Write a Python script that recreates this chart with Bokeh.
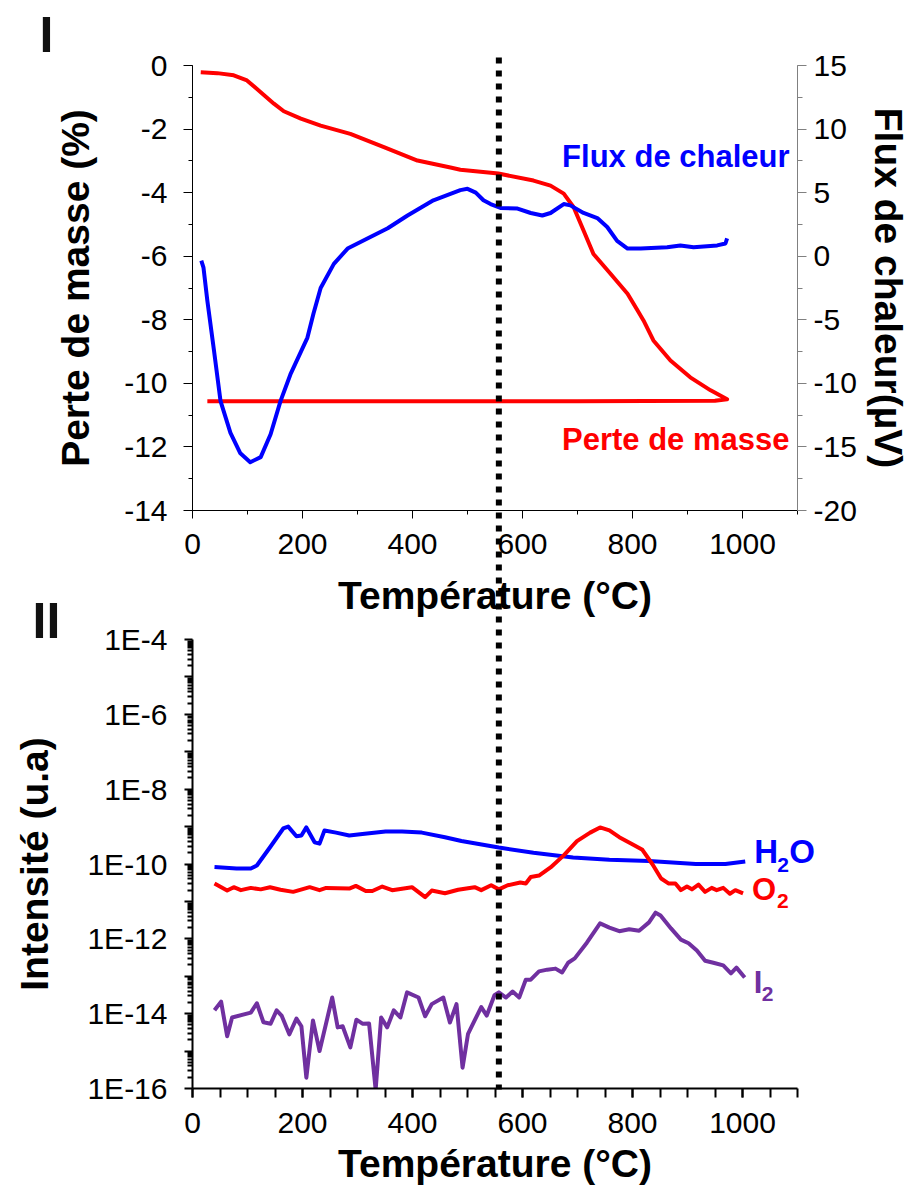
from bokeh.plotting import figure
from bokeh.models import (Range1d, LinearAxis, SingleIntervalTicker, FixedTicker,
                          CustomJSTickFormatter, Label)
from bokeh.layouts import column
from bokeh.embed import file_html
from bokeh.resources import INLINE

FONT = "Liberation Sans"

# ---------------- Panel I : TG / DSC ----------------
mass_T = [15, 45, 75, 99, 124, 148, 166, 197, 233, 287, 348, 409, 469, 487, 556, 620, 651, 675, 693, 711,
          729, 760, 791, 809, 820, 838, 869, 905, 942, 972, 950, 700, 400, 27]
mass = [-0.21, -0.24, -0.31, -0.47, -0.84, -1.2, -1.44, -1.67, -1.89, -2.15, -2.57, -2.99, -3.21, -3.28,
        -3.40, -3.62, -3.78, -4.03, -4.46, -5.19, -5.93, -6.55, -7.18, -7.7, -8.02, -8.65, -9.28, -9.81,
        -10.22, -10.5, -10.55, -10.56, -10.56, -10.56]

flux_T = [16, 20, 27, 39, 51, 69, 87, 105, 124, 142, 160, 178, 209, 220, 233, 257, 282, 318, 355, 391,
          438, 469, 487, 500, 515, 529, 542, 560, 591, 615, 636, 651, 675, 687, 711, 736, 754, 772, 791, 815,
          863, 887, 911, 954, 969, 972]
flux = [-0.34, -0.9, -3.5, -7.4, -11.4, -13.9, -15.5, -16.2, -15.8, -14.0, -11.4, -9.3, -6.4, -4.5, -2.5,
        -0.6, 0.6, 1.4, 2.2, 3.2, 4.4, 4.9, 5.2, 5.3, 5.0, 4.4, 4.1, 3.8, 3.75, 3.4, 3.2, 3.4, 4.1, 4.0,
        3.4, 3.0, 2.3, 1.2, 0.6, 0.6, 0.7, 0.85, 0.7, 0.85, 1.0, 1.4]

# ---------------- Panel II : mass spectrometry ----------------
h2o_T = [40, 80, 106, 117, 141, 165, 174, 189, 198, 207, 222, 231, 240, 261, 285, 309, 351, 381, 417, 459,
         489, 557, 620, 692, 758, 830, 915, 969, 1005]
h2o = [8.3e-11, 7.6e-11, 7.6e-11, 9.1e-11, 2.8e-10, 8.9e-10, 1.0e-9, 5.5e-10, 5.8e-10, 9.5e-10, 3.8e-10,
       3.5e-10, 7.9e-10, 6.9e-10, 5.8e-10, 6.3e-10, 7.4e-10, 7.4e-10, 6.9e-10, 5.2e-10, 4.1e-10, 2.75e-10,
       2.0e-10, 1.5e-10, 1.3e-10, 1.2e-10, 1.0e-10, 1.0e-10, 1.17e-10]

o2_T = [40, 63, 75, 88, 106, 124, 141, 160, 183, 213, 231, 243, 285, 297, 315, 327, 345, 363, 399, 423,
        435, 459, 483, 513, 525, 543, 557, 573, 596, 606, 615, 630, 651, 675, 699, 723, 741, 758, 776, 798,
        818, 836, 852, 866, 878, 888, 899, 908, 920, 932, 944, 953, 965, 977, 987, 1001]
o2 = [3.0e-11, 1.95e-11, 2.4e-11, 2.0e-11, 2.3e-11, 2.1e-11, 2.4e-11, 2.05e-11, 1.8e-11, 2.4e-11,
      2.0e-11, 2.3e-11, 2.2e-11, 2.6e-11, 1.9e-11, 1.9e-11, 2.5e-11, 2.0e-11, 2.4e-11, 1.3e-11,
      1.95e-11, 1.65e-11, 2.05e-11, 2.4e-11, 2.0e-11, 2.7e-11, 2.1e-11, 2.7e-11, 3.2e-11, 3.0e-11,
      4.5e-11, 4.9e-11, 8.1e-11, 1.7e-10, 4.1e-10, 6.9e-10, 9.5e-10, 7.9e-10, 5.2e-10, 3.5e-10,
      2.4e-10, 1.0e-10, 4.1e-11, 3.0e-11, 3.0e-11, 2.0e-11, 2.5e-11, 2.1e-11, 2.8e-11, 1.8e-11,
      2.3e-11, 2.0e-11, 2.3e-11, 1.6e-11, 2.0e-11, 1.65e-11]

i2_T = [40, 52, 63, 72, 106, 117, 129, 142, 153, 162, 176, 189, 198, 207, 219, 231, 254, 264, 273, 287,
        298, 309, 321, 333, 343, 354, 366, 378, 390, 411, 423, 435, 456, 468, 480, 491, 501, 513, 525, 535,
        549, 557, 570, 582, 594, 606, 615, 630, 645, 660, 672, 683, 695, 717, 741, 758, 776, 794, 812, 830,
        842, 851, 870, 888, 902, 917, 932, 947, 965, 979, 989, 1004]
i2 = [1.23e-14, 2.1e-14, 2.5e-15, 7.9e-15, 1.07e-14, 1.9e-14, 5.9e-15, 5.4e-15, 1.23e-14, 8.9e-15,
      2.8e-15, 7.4e-15, 4.6e-15, 1.95e-16, 6.6e-15, 1.0e-15, 2.7e-14, 4.3e-15, 4.6e-15, 1.26e-15,
      6.9e-15, 5.4e-15, 5.5e-15, 9.3e-17, 7.9e-15, 4.3e-15, 1.23e-14, 7.9e-15, 3.7e-14, 2.7e-14,
      8.5e-15, 1.8e-14, 2.7e-14, 5.8e-15, 1.8e-14, 3.6e-16, 2.9e-15, 6.6e-15, 1.5e-14, 8.9e-15,
      3.1e-14, 3.7e-14, 2.7e-14, 3.9e-14, 2.7e-14, 8.1e-14, 8.1e-14, 1.35e-13, 1.5e-13, 1.6e-13,
      1.26e-13, 2.3e-13, 3.0e-13, 7.9e-13, 2.6e-12, 2.0e-12, 1.6e-12, 1.8e-12, 1.65e-12, 2.75e-12,
      5.0e-12, 4.2e-12, 1.9e-12, 9.5e-13, 7.6e-13, 4.9e-13, 2.6e-13, 2.3e-13, 1.95e-13, 1.2e-13,
      1.7e-13, 9.3e-14]

event_T = [557]          # vertical dotted marker (°C)

y2_tick_exponents = [-16, -14, -12, -10, -8, -6, -4]
y2_tick_labels = ["1E-16", "1E-14", "1E-12", "1E-10", "1E-8", "1E-6", "1E-4"]

RED = "#FF0000"
BLUE = "#0000FF"
PURPLE = "#7030A0"
GRAY = "#808080"

# ---------------- layout geometry (pixels) ----------------
PAGE_W = 916
LEFT, FW = 192, 605                    # shared frame left edge / width (frames are aligned)
RIGHT = PAGE_W - LEFT - FW             # 119
P1_TOP, P1_FH, P1_BOTTOM_BORDER = 65, 445, 150
P1_H = P1_TOP + P1_FH + P1_BOTTOM_BORDER            # 660
OVERLAP = 40                                         # panel II canvas starts 40px above panel I's end
P2_TOP_BORDER, P2_FH, P2_BOTTOM_BORDER = 19, 449, 98
P2_H = P2_TOP_BORDER + P2_FH + P2_BOTTOM_BORDER      # 566
PAGE_H = P1_H - OVERLAP + P2_H                       # 1186
X_MAX = 1100
Y1_MIN, Y1_MAX = -14, 0


def px_to_T(px):
    return (px - LEFT) * X_MAX / FW


def py_to_mass(py):
    return Y1_MAX - (py - P1_TOP) * (Y1_MAX - Y1_MIN) / P1_FH


def style_axis(ax, label, tick_out, minor_out, label_standoff, axis_label_standoff,
               line_width=1, color="black"):
    ax.axis_label = label
    ax.axis_label_text_font = FONT
    ax.axis_label_text_font_size = "39px"
    ax.axis_label_text_font_style = "bold"
    ax.axis_label_text_color = "black"
    ax.axis_label_standoff = axis_label_standoff
    ax.major_label_text_font = FONT
    ax.major_label_text_font_size = "30px"
    ax.major_label_text_color = "black"
    ax.major_label_standoff = label_standoff
    ax.major_tick_in = 0
    ax.major_tick_out = tick_out
    ax.minor_tick_in = 0
    ax.minor_tick_out = minor_out
    ax.axis_line_color = color
    ax.major_tick_line_color = color
    ax.minor_tick_line_color = color
    ax.axis_line_width = line_width
    ax.major_tick_line_width = line_width
    ax.minor_tick_line_width = line_width


# ================= Figure I =================
p1 = figure(frame_width=FW, frame_height=P1_FH, min_border_left=LEFT, min_border_right=RIGHT,
            min_border_top=P1_TOP, min_border_bottom=P1_BOTTOM_BORDER,
            x_range=Range1d(0, X_MAX), y_range=Range1d(Y1_MIN, Y1_MAX),
            output_backend="svg", toolbar_location=None, title=None,
            background_fill_color="white", border_fill_color="white")
p1.outline_line_color = None
p1.grid.visible = False
p1.extra_y_ranges = {"flux": Range1d(-20, 15)}

xa1 = p1.xaxis[0]
xa1.ticker = SingleIntervalTicker(interval=200, num_minor_ticks=2)
style_axis(xa1, "Température (°C)", 8, 4, 15, 17)

ya1 = p1.yaxis[0]
ya1.ticker = SingleIntervalTicker(interval=2, num_minor_ticks=2)
ya1.formatter = CustomJSTickFormatter(code="return String(tick);")
style_axis(ya1, "Perte de masse (%)", 9, 4, 16, 24)

ra1 = LinearAxis(y_range_name="flux", ticker=SingleIntervalTicker(interval=5, num_minor_ticks=2),
                 formatter=CustomJSTickFormatter(code="return String(tick);"))
style_axis(ra1, "Flux de chaleur(µV)", 9, 5, 7, 7, color=GRAY)
p1.add_layout(ra1, "right")

p1.line(mass_T, mass, line_color=RED, line_width=4, line_join="round")
p1.line(flux_T, flux, line_color=BLUE, line_width=4, line_join="round", y_range_name="flux")

# series captions (text vertically centred on the given position)
p1.add_layout(Label(x=px_to_T(789), y=py_to_mass(156), text="Flux de chaleur", text_align="right",
                    text_baseline="middle", text_font=FONT, text_font_size="31px",
                    text_font_style="bold", text_color=BLUE))
p1.add_layout(Label(x=px_to_T(789), y=py_to_mass(439), text="Perte de masse", text_align="right",
                    text_baseline="middle", text_font=FONT, text_font_size="31px",
                    text_font_style="bold", text_color=RED))

# panel letters, placed in the left side panel (not clipped to the frame)
for txt, px, py in (("I", 39, 34), ("II", 32, 620)):
    p1.add_layout(Label(x=px_to_T(px), y=py_to_mass(py), text=txt,
                        text_font=FONT, text_font_size="50px", text_font_style="bold",
                        text_baseline="middle", text_align="left", text_color="#111111"), "left")

# ================= Figure II =================
p2 = figure(frame_width=FW, frame_height=P2_FH, min_border_left=LEFT, min_border_right=RIGHT,
            min_border_top=P2_TOP_BORDER, min_border_bottom=P2_BOTTOM_BORDER,
            x_range=Range1d(0, X_MAX), y_range=Range1d(1e-16, 1e-4),
            y_axis_type="log",
            output_backend="svg", toolbar_location=None, title=None,
            background_fill_color="white", border_fill_color=None)
p2.outline_line_color = None
p2.grid.visible = False
p2.margin = (-OVERLAP, 0, 0, 0)

xa2 = p2.xaxis[0]
xa2.ticker = SingleIntervalTicker(interval=200, num_minor_ticks=4)
style_axis(xa2, "Température (°C)", 9, 9, 15, 6, line_width=2)

ya2 = p2.yaxis[0]
decades = [10.0 ** k for k in range(-16, -3)]
minors = [m * 10.0 ** k for k in range(-16, -4) for m in range(2, 10)]
ya2.ticker = FixedTicker(ticks=decades, minor_ticks=minors)
ya2.formatter = CustomJSTickFormatter(
    args=dict(exps=y2_tick_exponents, labels=y2_tick_labels),
    code="const e = Math.round(Math.log10(tick)); const i = exps.indexOf(e); return i >= 0 ? labels[i] : '';")
style_axis(ya2, "Intensité (u.a)", 8, 5, 17, 28, line_width=2)

p2.line(h2o_T, h2o, line_color=BLUE, line_width=4, line_join="round")
p2.line(o2_T, o2, line_color=RED, line_width=4, line_join="round")
p2.line(i2_T, i2, line_color=PURPLE, line_width=4, line_join="round")


def species_label(p, x, y, main1, sub, main2, color, size, dx, dy, sub_dx, sub_dy, dx2):
    common = dict(text_font=FONT, text_font_style="bold", text_color=color,
                  text_baseline="middle", text_align="left")
    p.add_layout(Label(x=x, y=y, x_offset=dx, y_offset=dy, text=main1, text_font_size=size, **common))
    p.add_layout(Label(x=x, y=y, x_offset=sub_dx, y_offset=sub_dy, text=sub, text_font_size="21px", **common))
    if main2:
        # lies beyond the frame's right edge: put it in the right side panel (not clipped)
        p.add_layout(Label(x=x, y=y, x_offset=dx2, y_offset=dy, text=main2, text_font_size=size, **common),
                     "right")


species_label(p2, h2o_T[-1], h2o[-1], "H", "2", "O", BLUE, "33px", 9, 10, 32, -4, 44)
species_label(p2, o2_T[-1], o2[-1], "O", "2", "", RED, "31px", 9, 4, 34, -8, 0)
species_label(p2, i2_T[-1], i2[-1], "I", "2", "", PURPLE, "31px", 9, -5, 17, -17, 0)

# ================= transparent overlay across both panels (dotted marker) =================
ov = figure(width=PAGE_W, height=PAGE_H, frame_width=FW,
            x_range=Range1d(0, X_MAX), y_range=Range1d(PAGE_H, 0),
            x_axis_type=None, y_axis_type=None,
            min_border_left=LEFT, min_border_right=RIGHT, min_border_top=0, min_border_bottom=0,
            output_backend="svg", toolbar_location=None, title=None)
ov.background_fill_color = None
ov.border_fill_color = None
ov.outline_line_color = None
ov.margin = (-PAGE_H, 0, 0, 0)

line_top = P1_TOP - 9
line_bottom = P1_H - OVERLAP + P2_TOP_BORDER + P2_FH
ov.segment(x0=event_T, y0=[line_top], x1=event_T, y1=[line_bottom],
           line_color="black", line_width=6, line_dash="6 7")

layout = column(p1, p2, ov)
open("out.html", "w").write(file_html(layout, INLINE))
